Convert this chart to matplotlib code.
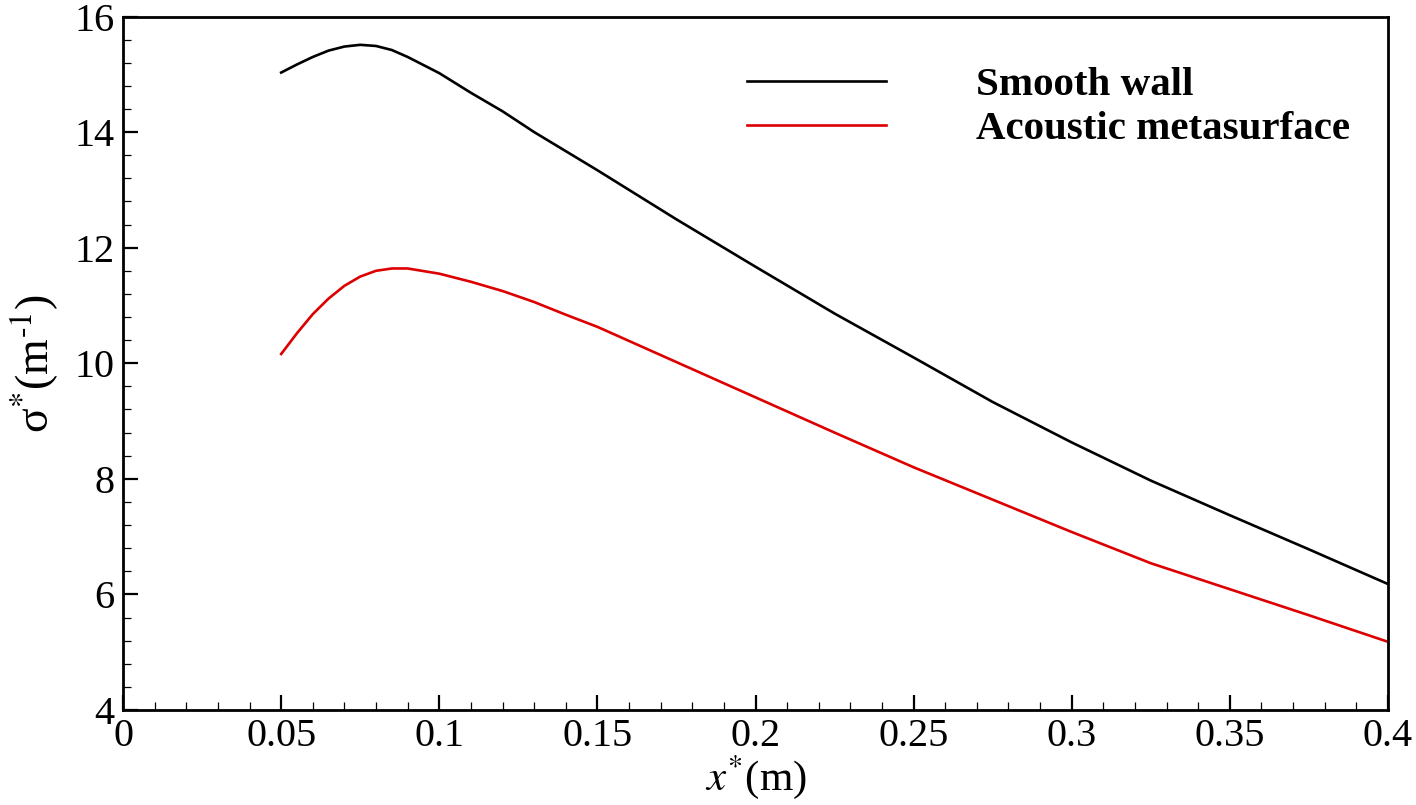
import numpy as np
import matplotlib
matplotlib.use("Agg")
import matplotlib.pyplot as plt
from matplotlib.ticker import MultipleLocator

plt.rcParams['font.family'] = ['Liberation Serif', 'DejaVu Serif']
plt.rcParams['mathtext.fontset'] = 'stix'

# values
x_smooth = [0.05, 0.055, 0.06, 0.065, 0.07, 0.075, 0.08, 0.085, 0.09, 0.1, 0.11,
            0.12, 0.13, 0.15, 0.175, 0.2, 0.225, 0.25, 0.275, 0.3, 0.325, 0.35,
            0.375, 0.4]
y_smooth = [15.03, 15.17, 15.30, 15.41, 15.48, 15.51, 15.49, 15.42, 15.30, 15.02,
            14.68, 14.36, 14.00, 13.34, 12.49, 11.67, 10.86, 10.10, 9.33, 8.63,
            7.97, 7.37, 6.78, 6.18]

x_meta = [0.05, 0.055, 0.06, 0.065, 0.07, 0.075, 0.08, 0.085, 0.09, 0.1, 0.11,
          0.12, 0.13, 0.14, 0.15, 0.175, 0.2, 0.225, 0.25, 0.275, 0.3, 0.325,
          0.35, 0.375, 0.4]
y_meta = [10.16, 10.52, 10.85, 11.12, 11.34, 11.50, 11.60, 11.64, 11.64, 11.55,
          11.41, 11.25, 11.06, 10.84, 10.63, 10.02, 9.41, 8.80, 8.20, 7.64, 7.08,
          6.54, 6.09, 5.64, 5.18]

labels = ['Smooth wall', 'Acoustic metasurface']
xtick_labels = ['0', '0.05', '0.1', '0.15', '0.2', '0.25', '0.3', '0.35', '0.4']

fig = plt.figure(figsize=(14.16, 8.05), dpi=100)
ax = fig.add_axes([0.0869, 0.118, 0.8933, 0.8615])

ax.plot(x_smooth, y_smooth, color='black', lw=1.9, label=labels[0])
ax.plot(x_meta, y_meta, color='#dd0000', lw=1.9, label=labels[1])

ax.set_xlim(0, 0.4)
ax.set_ylim(4, 16)
ax.set_xticks(np.arange(0, 0.401, 0.05))
ax.set_xticklabels(xtick_labels)
ax.xaxis.set_minor_locator(MultipleLocator(0.01))
ax.yaxis.set_major_locator(MultipleLocator(2))
ax.yaxis.set_minor_locator(MultipleLocator(0.4))

ax.tick_params(which='major', direction='in', length=11, width=1.6,
               labelsize=29, pad=6)
ax.tick_params(which='minor', direction='in', length=6, width=0.9)
ax.tick_params(top=False, right=False, which='both')
for s in ax.spines.values():
    s.set_linewidth(2)

ax.set_xlabel(r'$x^{*}$(m)', fontsize=31, labelpad=-2)
ax.set_ylabel(r'σ$^{*}$(m$^{\text{-}1}$)', fontsize=33, labelpad=10)

leg = ax.legend(loc='upper right', bbox_to_anchor=(0.970, 0.928), frameon=False,
                prop={'weight': 'bold', 'size': 29.5}, handlelength=3.4,
                handletextpad=2.2, labelspacing=0.15, borderpad=0,
                borderaxespad=0)

fig.savefig('out.png', dpi=100)
